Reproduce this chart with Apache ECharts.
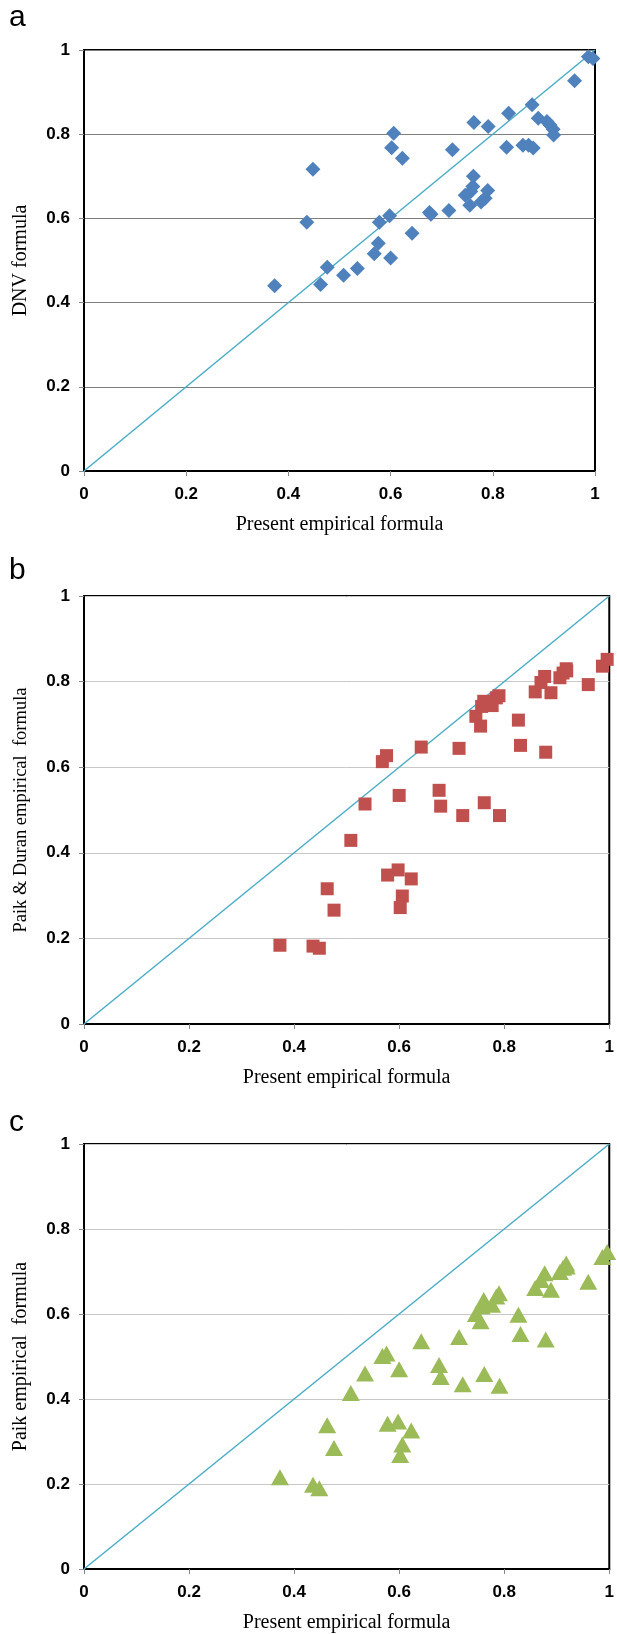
<!DOCTYPE html>
<html>
<head>
<meta charset="utf-8">
<script src="https://cdn.jsdelivr.net/npm/echarts@6/dist/echarts.min.js"></script>
<style>
html, body { margin: 0; padding: 0; background: #fff; }
#main { width: 617px; height: 1634px; }
</style>
</head>
<body>
<div id="main"></div>
<script>
// present empirical formula (same x for all three panels)
var present = [0.373, 0.436, 0.448, 0.463, 0.476, 0.508, 0.535, 0.568, 0.576, 0.578, 0.598,
  0.600, 0.602, 0.606, 0.623, 0.642, 0.676, 0.679, 0.714, 0.721, 0.746, 0.755, 0.757,
  0.761, 0.762, 0.763, 0.777, 0.785, 0.790, 0.791, 0.827, 0.831, 0.859, 0.870, 0.877,
  0.879, 0.889, 0.906, 0.912, 0.918, 0.919, 0.960, 0.987, 0.996];
// a: DNV formula
var dnv = [0.440, 0.591, 0.717, 0.443, 0.484, 0.465, 0.481, 0.516, 0.541, 0.591, 0.606,
  0.506, 0.768, 0.802, 0.743, 0.565, 0.614, 0.610, 0.619, 0.763, 0.655, 0.631, 0.664,
  0.676, 0.700, 0.828, 0.639, 0.648, 0.666, 0.818, 0.769, 0.850, 0.774, 0.774, 0.870,
  0.767, 0.838, 0.830, 0.822, 0.812, 0.798, 0.927, 0.984, 0.980];
// b: Paik & Duran empirical formula
var paikDuran = [0.184, 0.182, 0.177, 0.316, 0.266, 0.429, 0.514, 0.613, 0.627, 0.348, 0.360,
  0.534, 0.272, 0.299, 0.339, 0.647, 0.546, 0.509, 0.644, 0.487, 0.719, 0.696, 0.742,
  0.754, 0.517, 0.750, 0.744, 0.762, 0.767, 0.487, 0.710, 0.651, 0.776, 0.798, 0.812,
  0.635, 0.774, 0.809, 0.820, 0.830, 0.825, 0.793, 0.836, 0.852];
// c: Paik empirical formula
var paik = [0.216, 0.198, 0.190, 0.338, 0.285, 0.414, 0.460, 0.501, 0.507, 0.342, 0.347,
  0.470, 0.268, 0.293, 0.326, 0.536, 0.480, 0.452, 0.546, 0.435, 0.600, 0.583, 0.618,
  0.633, 0.459, 0.626, 0.622, 0.641, 0.649, 0.431, 0.598, 0.553, 0.661, 0.680, 0.696,
  0.540, 0.657, 0.699, 0.709, 0.719, 0.712, 0.676, 0.734, 0.746];
// 1:1 line
var parity = [[0, 0], [1, 1]];
var xTitle = "Present empirical formula";
var yTitles = ["DNV formula", "Paik & Duran empirical  formula", "Paik empirical  formula"];
var panelLetters = ["a", "b", "c"];

var myChart = echarts.init(document.getElementById("main"));

var grids = [
  { left: 84, top: 50, width: 511, height: 421 },
  { left: 84, top: 596, width: 530, height: 428 },
  { left: 84, top: 1144, width: 528, height: 429 }
];
var gridColor = ["#7f7f7f", "#c8c8c8", "#c8c8c8"];
var yTitleSize = [20, 18.5, 20];
var letterTop = [3, 556, 1108];

function pairs(ys) {
  return present.map(function(x, i) { return [x, ys[i]]; });
}

var xAxes = [], yAxes = [];
grids.forEach(function(g, k) {
  g.show = true;
  g.borderColor = "#000";
  g.borderWidth = 2;
  g.containLabel = false;
  xAxes.push({
    gridIndex: k, type: "value", min: 0, max: 1, interval: 0.2,
    name: xTitle, nameLocation: "middle", nameGap: 44,
    nameTextStyle: { fontFamily: "Liberation Serif", fontSize: 20, color: "#000" },
    axisLine: { show: true, lineStyle: { color: "#000", width: 2 } },
    axisTick: { show: true, length: 5, lineStyle: { color: "#888" } },
    axisLabel: { margin: 15, fontFamily: "Liberation Sans", fontWeight: "bold", fontSize: 17, color: "#000" },
    splitLine: { show: false }
  });
  yAxes.push({
    gridIndex: k, type: "value", min: 0, max: 1, interval: 0.2,
    name: yTitles[k], nameLocation: "middle", nameGap: 53,
    nameTextStyle: { fontFamily: "Liberation Serif", fontSize: yTitleSize[k], color: "#000" },
    axisLine: { show: true, lineStyle: { color: "#000", width: 2 } },
    axisTick: { show: true, length: 5, lineStyle: { color: "#888" } },
    axisLabel: { margin: 14, fontFamily: "Liberation Sans", fontWeight: "bold", fontSize: 17, color: "#000" },
    splitLine: { show: true, lineStyle: { color: gridColor[k], width: 1 } }
  });
});

var markers = [
  { data: dnv, symbol: "diamond", size: 15, color: "#4f81bd" },
  { data: paikDuran, symbol: "rect", size: 13, color: "#c0504d" },
  { data: paik, symbol: "triangle", size: [18, 16], color: "#9bbb59" }
];

var seriesData = [];
markers.forEach(function(m, k) {
  seriesData.push({
    type: "line", xAxisIndex: k, yAxisIndex: k, data: parity,
    symbol: "none", silent: true,
    lineStyle: { color: "#4bacc6", width: 1.5 }, z: 2
  });
  seriesData.push({
    type: "scatter", xAxisIndex: k, yAxisIndex: k, data: pairs(m.data),
    symbol: m.symbol, symbolSize: m.size,
    itemStyle: { color: m.color, opacity: 1 }, z: 3
  });
});

var option = {
  animation: false,
  grid: grids,
  xAxis: xAxes,
  yAxis: yAxes,
  series: seriesData,
  graphic: panelLetters.map(function(t, k) {
    return {
      type: "text", left: 9, top: letterTop[k],
      style: { text: t, font: "30px 'Liberation Sans'", fill: "#000" }
    };
  })
};
myChart.setOption(option);
</script>
</body>
</html>
